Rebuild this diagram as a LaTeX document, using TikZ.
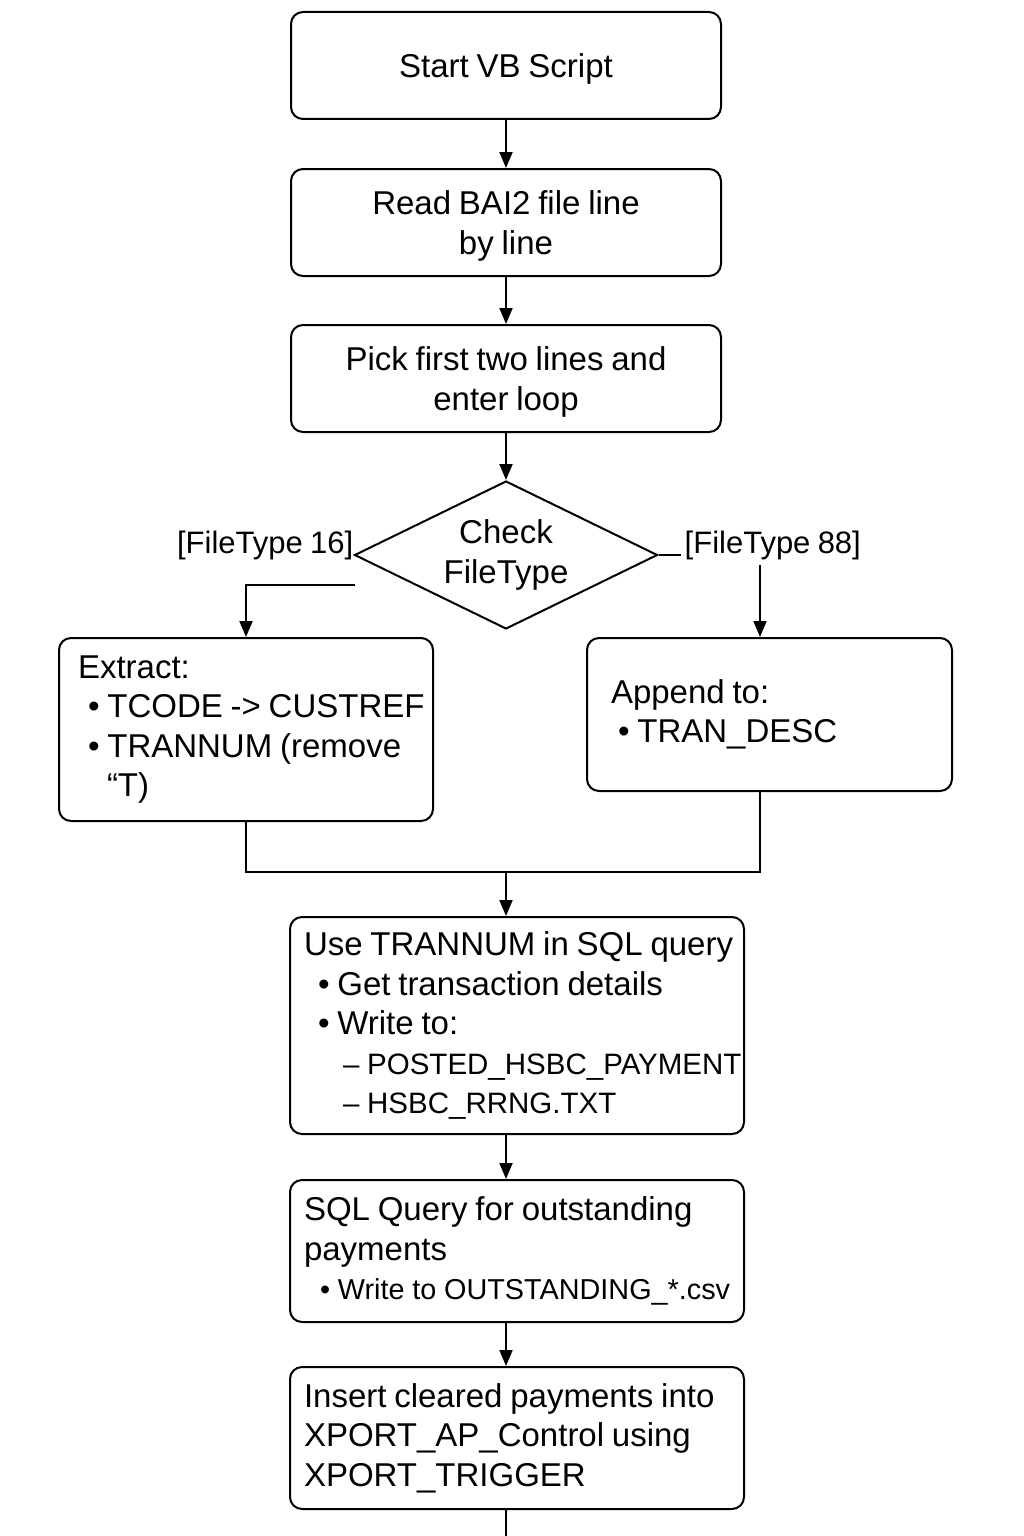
\documentclass[tikz,border=0pt]{standalone}
\usepackage{fontspec}
\setmainfont{Liberation Sans}[WordSpace=0.85]
\usetikzlibrary{shapes.geometric,arrows.meta}

\newcommand{\subsize}{\fontsize{29.5}{39.5}\selectfont}

\begin{document}
\begin{tikzpicture}[x=1pt,y=-1pt]
\tikzset{every node/.style={font=\fontsize{33}{39.5}\selectfont}}
\tikzset{process/.style={draw,line width=2pt,rounded corners=12pt,inner sep=0pt,align=center}}
\tikzset{titlebox/.style={process,text depth=0pt,minimum width=430pt,minimum height=107pt}}
\tikzset{listbox/.style={process,align=left,execute at begin node={\spaceskip=7.8pt\relax}}}
\tikzset{decision/.style={draw,line width=2pt,diamond,aspect=2.05,minimum width=303pt,minimum height=148pt,inner sep=0pt,align=center}}
\tikzset{flowline/.style={line width=2pt}}
\tikzset{flowarrow/.style={flowline,-{Triangle[length=16pt,width=13pt]}}}
\tikzset{branchlabel/.style={inner sep=0pt,font=\fontsize{31}{37}\selectfont}}

\useasboundingbox (0,0) rectangle (1024,1536);

\node[titlebox] (start) at (506,65.5) {Start VB Script};
\node[titlebox] (read) at (506,222.5) {Read BAI2 file line\\by line};
\node[titlebox] (pick) at (506,378.5) {Pick first two lines and\\enter loop};
\node[decision] (check) at (506,555) {Check\\FileType};

\node[listbox,text width=336pt,inner xsep=19pt,minimum height=183pt] (extract) at (246,729.5)
  {Extract:\\\hspace*{10pt}\mbox{• TCODE -> CUSTREF}\\\hspace*{10pt}\mbox{• TRANNUM (remove}\\\hspace*{29pt}“T)};
\node[listbox,text width=317pt,inner xsep=24pt,minimum height=153pt] (append) at (769.5,714.5)
  {Append to:\\\hspace*{7pt}\mbox{• TRAN\_DESC}};

\node[listbox,text width=426pt,inner xsep=14pt,minimum height=217pt] (use) at (517,1025.5)
  {\mbox{Use TRANNUM in SQL query}\\\hspace*{14pt}\mbox{• Get transaction details}\\\hspace*{14pt}\mbox{• Write to:}\\
   {\subsize\hspace*{39pt}\mbox{– POSTED\_HSBC\_PAYMENT}}\\{\subsize\hspace*{39pt}\mbox{– HSBC\_RRNG.TXT}}};
\node[listbox,text width=426pt,inner xsep=14pt,minimum height=142pt] (sql) at (517,1251)
  {\mbox{SQL Query for outstanding}\\payments\\{\fontsize{28.8}{39.5}\selectfont\hspace*{16pt}\mbox{• Write to OUTSTANDING\_*.csv}}};
\node[listbox,text width=426pt,inner xsep=14pt,minimum height=142pt] (insert) at (517,1438)
  {\mbox{Insert cleared payments into}\\\mbox{XPORT\_AP\_Control using}\\XPORT\_TRIGGER};

\node[branchlabel,anchor=east] (ft16) at ([yshift=10pt]check.west) {[FileType 16]};
\coordinate (stub88) at ([xshift=22pt]check.east);
\node[branchlabel,anchor=west] (ft88) at ([xshift=4pt,yshift=10pt]stub88) {[FileType 88]};

\coordinate (from16) at (355,585);
\coordinate (from88) at (760,565);
\coordinate (merge) at (506,872);
\coordinate (joinR) at (760,872);
\coordinate (tail) at (506,1536);

\draw[flowarrow] (start.south) -- (read.north);
\draw[flowarrow] (read.south) -- (pick.north);
\draw[flowarrow] (pick.south) -- (check.north);
\draw[flowline] (check.east) -- (stub88);
\draw[flowarrow] (from16) -| (extract.north);
\draw[flowarrow] (from88) -- (from88 |- append.north);
\draw[flowline] (extract.south) |- (joinR) -- (joinR |- append.south);
\draw[flowarrow] (merge) -- (merge |- use.north);
\draw[flowarrow] (merge |- use.south) -- (merge |- sql.north);
\draw[flowarrow] (merge |- sql.south) -- (merge |- insert.north);
\draw[flowline] (tail |- insert.south) -- (tail);

\end{tikzpicture}
\end{document}
